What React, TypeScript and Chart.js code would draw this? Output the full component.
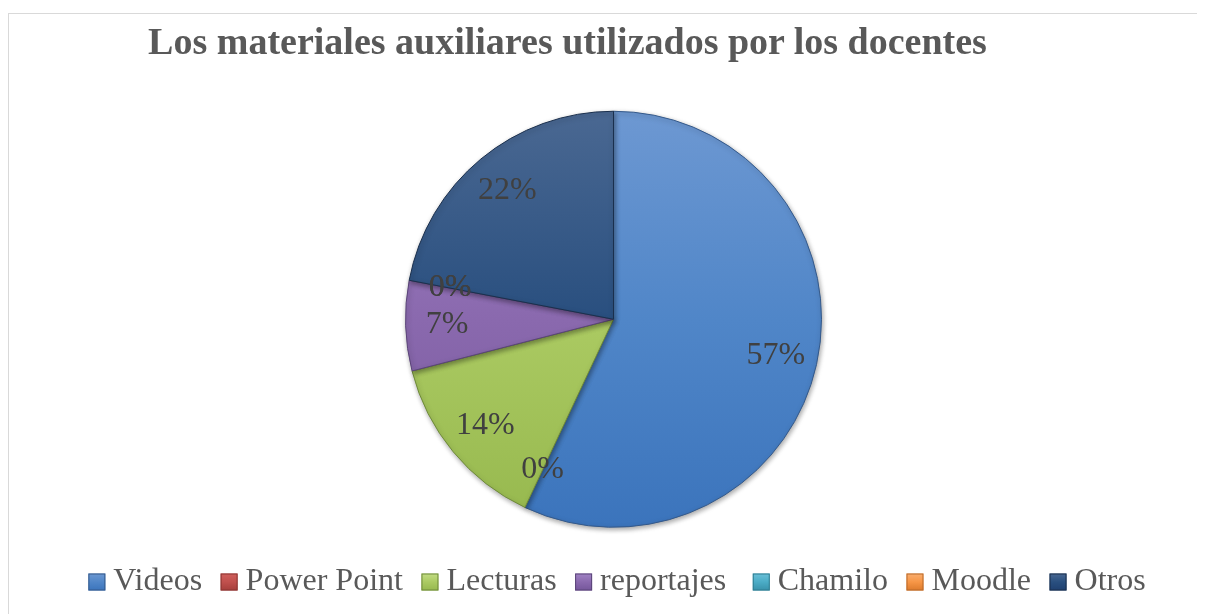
import React, { useEffect, useRef } from 'react';
import { Chart, registerables } from 'chart.js';

Chart.register(...registerables);

const TITLE = 'Los materiales auxiliares utilizados por los docentes';
const categories = ['Videos', 'Power Point', 'Lecturas', 'reportajes ', 'Chamilo', 'Moodle', 'Otros'];
const percentages = [57, 0, 14, 7, 0, 0, 22];

const baseColors = ['#4F81BD', '#C0504D', '#9BBB59', '#8064A2', '#4BACC6', '#F79646', '#1F497D'];
const lightColors = ['#6D98D2', '#D0605D', '#C2DC84', '#A083C4', '#6BC0D8', '#F9AE70', '#4A6892'];
const midColors = ['#5086C8', '#C0504D', '#ABCA62', '#8A69AE', '#4BACC6', '#F79646', '#294F7F'];
const darkColors = ['#3B74BC', '#A53E3B', '#96B84E', '#74569A', '#3891AA', '#DC7A2C', '#1F4070'];
const edgeColors = ['#34598A', '#8A3532', '#6E8A3A', '#5A4478', '#2F7C90', '#B86A2A', '#1A2F4D'];

const PIE_RADIUS = 208;
const LEGEND_FONT = 32;
const LEGEND_SPACE = 16;
const LEGEND_BOX = 17;

const shadowPlugin = {
  id: 'pieShadow',
  beforeDatasetsDraw(chart: any) {
    const ctx = chart.ctx;
    ctx.save();
    ctx.shadowColor = 'rgba(0,0,0,0.35)';
    ctx.shadowBlur = 5;
    ctx.shadowOffsetX = 1;
    ctx.shadowOffsetY = 2;
  },
  afterDatasetsDraw(chart: any) {
    chart.ctx.restore();
  },
};

const labelPlugin = {
  id: 'pctLabels',
  afterDatasetsDraw(chart: any) {
    const meta = chart.getDatasetMeta(0);
    const ctx = chart.ctx;
    ctx.save();
    ctx.font = '32px "Liberation Serif"';
    ctx.fillStyle = '#404040';
    ctx.textAlign = 'center';
    ctx.textBaseline = 'middle';
    meta.data.forEach((arc: any, i: number) => {
      const { startAngle, endAngle, outerRadius, x, y } = arc.getProps(
        ['startAngle', 'endAngle', 'outerRadius', 'x', 'y'],
        true
      );
      const mid = (startAngle + endAngle) / 2;
      const r = outerRadius * 0.8;
      ctx.fillText(percentages[i] + '%', x + Math.cos(mid) * r, y + Math.sin(mid) * r);
    });
    ctx.restore();
  },
};

// draws the legend swatches closer to their text, with a bevel-like gradient
const legendBoxPlugin = {
  id: 'legendBoxes',
  afterDraw(chart: any) {
    const legend = chart.legend;
    if (!legend || !legend.legendHitBoxes) return;
    const ctx = chart.ctx;
    ctx.save();
    legend.legendHitBoxes.forEach((hb: any, i: number) => {
      const x = hb.left + LEGEND_SPACE + LEGEND_FONT / 2 - 8 - LEGEND_BOX;
      const y = hb.top + (LEGEND_FONT - LEGEND_BOX) / 2;
      const g = ctx.createLinearGradient(0, y, 0, y + LEGEND_BOX);
      g.addColorStop(0, lightColors[i]);
      g.addColorStop(0.5, midColors[i]);
      g.addColorStop(1, darkColors[i]);
      ctx.fillStyle = g;
      ctx.fillRect(x, y, LEGEND_BOX, LEGEND_BOX);
      ctx.strokeStyle = edgeColors[i];
      ctx.lineWidth = 1;
      ctx.strokeRect(x + 0.5, y + 0.5, LEGEND_BOX - 1, LEGEND_BOX - 1);
    });
    ctx.restore();
  },
};

export default function App() {
  const canvasRef = useRef<HTMLCanvasElement | null>(null);

  useEffect(() => {
    document.documentElement.style.overflow = 'hidden';
    document.body.style.overflow = 'hidden';
    const canvas = canvasRef.current;
    if (!canvas) return;
    const chart = new Chart(canvas, {
      type: 'pie',
      data: {
        labels: categories,
        datasets: [
          {
            data: percentages,
            radius: PIE_RADIUS,
            borderWidth: 1,
            borderColor: edgeColors,
            backgroundColor: (c: any) => {
              const ch = c.chart;
              const area = ch.chartArea;
              const i = c.dataIndex ?? 0;
              if (!area) return baseColors[i];
              const cy = (area.top + area.bottom) / 2;
              const g = ch.ctx.createLinearGradient(0, cy - PIE_RADIUS, 0, cy + PIE_RADIUS);
              g.addColorStop(0, lightColors[i]);
              g.addColorStop(0.5, midColors[i]);
              g.addColorStop(1, darkColors[i]);
              return g;
            },
          } as any,
        ],
      },
      options: {
        responsive: false,
        animation: false,
        layout: { padding: { top: 70, bottom: 6, left: 13, right: 0 } },
        plugins: {
          title: { display: false },
          tooltip: { enabled: false },
          legend: {
            position: 'bottom',
            labels: {
              font: { family: '"Liberation Serif"', size: LEGEND_FONT },
              color: '#595959',
              boxWidth: LEGEND_SPACE,
              boxHeight: LEGEND_SPACE,
              padding: 11.5,
              generateLabels: (ch: any) =>
                categories.map((text, i) => ({
                  text,
                  fillStyle: 'rgba(0,0,0,0)',
                  strokeStyle: 'rgba(0,0,0,0)',
                  lineWidth: 0,
                  fontColor: '#595959',
                  hidden: !ch.getDataVisibility(i),
                  index: i,
                })),
            },
          },
        },
      },
      plugins: [shadowPlugin, labelPlugin, legendBoxPlugin],
    });
    return () => chart.destroy();
  }, []);

  return (
    <div style={{ paddingTop: 5 }}>
      <div
        style={{
          position: 'relative',
          width: 1197,
          height: 601,
          boxSizing: 'border-box',
          borderTop: '1px solid #d9d9d9',
          borderLeft: '1px solid #d9d9d9',
          background: '#ffffff',
        }}
      >
        <canvas
          ref={canvasRef}
          width={1196}
          height={600}
          style={{ position: 'absolute', left: 0, top: 0, display: 'block' }}
        />
        <div
          style={{
            position: 'absolute',
            left: 0,
            top: 7.5,
            width: 1117,
            textAlign: 'center',
            whiteSpace: 'nowrap',
            font: 'bold 38px "Liberation Serif"',
            lineHeight: '38px',
            color: '#595959',
            pointerEvents: 'none',
          }}
        >
          {TITLE}
        </div>
      </div>
    </div>
  );
}
